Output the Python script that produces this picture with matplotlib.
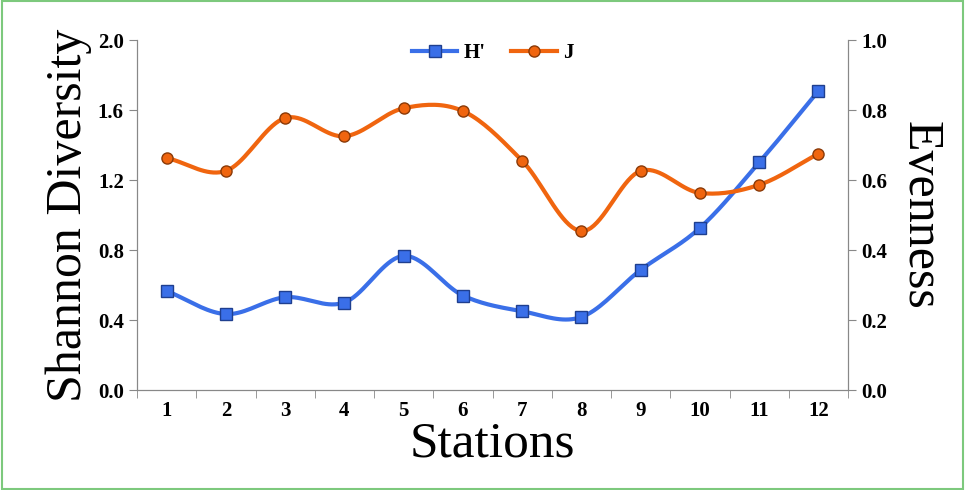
import numpy as np
from matplotlib import pyplot as plt
from matplotlib.patches import Rectangle
from matplotlib.lines import Line2D

stations = [1, 2, 3, 4, 5, 6, 7, 8, 9, 10, 11, 12]
H = [0.566, 0.434, 0.53, 0.50, 0.766, 0.54, 0.45, 0.417, 0.686, 0.926, 1.30, 1.709]
J = [0.663, 0.626, 0.777, 0.725, 0.805, 0.797, 0.655, 0.454, 0.626, 0.563, 0.586, 0.675]

def smooth(x, y, n=20):
    # catmull-rom curve through the points, like Excel's smoothed line
    x = np.asarray(x, float); y = np.asarray(y, float)
    px = np.concatenate([[2*x[0]-x[1]], x, [2*x[-1]-x[-2]]])
    py = np.concatenate([[2*y[0]-y[1]], y, [2*y[-1]-y[-2]]])
    xs, ys = [], []
    t = np.linspace(0, 1, n)
    for i in range(1, len(px)-2):
        for p, out in ((px, xs), (py, ys)):
            p0, p1, p2, p3 = p[i-1], p[i], p[i+1], p[i+2]
            out.extend(0.5*(2*p1 + (-p0+p2)*t + (2*p0-5*p1+4*p2-p3)*t**2 + (-p0+3*p1-3*p2+p3)*t**3))
    return np.array(xs), np.array(ys)

plt.rcParams['font.family'] = ['Liberation Serif', 'DejaVu Serif']
fig = plt.figure(figsize=(9.65, 4.9), dpi=100)
fig.patches.append(Rectangle((0.002, 0.002), 0.996, 0.996, transform=fig.transFigure,
                             fill=False, edgecolor='#7dc97d', linewidth=1.5))
ax = fig.add_axes([137/965, 1-390/490, (848-137)/965, 350/490])
ax2 = ax.twinx()

blue = '#3a6fe8'
orange = '#f0650f'
xs, ys = smooth(stations, H)
ax.plot(xs, ys, color=blue, lw=3)
ax.plot(stations, H, 's', color=blue, mec='#1f3f8f', ms=8)
xs, ys = smooth(stations, J)
ax2.plot(xs, ys, color=orange, lw=3)
ax2.plot(stations, J, 'o', color=orange, mec='#8a3a08', ms=8)

ax.set_ylim(0, 2.0)
ax2.set_ylim(0, 1.0)
ax.set_xlim(0.5, 12.5)
ax.set_yticks(np.arange(0, 2.01, 0.4))
ax.set_yticklabels(['%.1f' % v for v in np.arange(0, 2.01, 0.4)], fontweight='bold', fontsize=15)
ax2.set_yticks(np.arange(0, 1.01, 0.2))
ax2.set_yticklabels(['%.1f' % v for v in np.arange(0, 1.01, 0.2)], fontweight='bold', fontsize=15)
ax.set_xticks(stations)
ax.set_xticklabels([str(s) for s in stations], fontweight='bold', fontsize=15)
ax.set_xticks(np.arange(0.5, 12.6, 1), minor=True)
ax.tick_params(axis='x', which='major', length=0, pad=8)
ax.tick_params(axis='x', which='minor', length=6, color='#888888')
ax.tick_params(axis='y', length=6, color='#888888')
ax2.tick_params(axis='y', length=6, color='#888888')
for a in (ax, ax2):
    a.spines['top'].set_visible(False)
    for s in ('left', 'right', 'bottom'):
        a.spines[s].set_color('#888888')
ax.set_xlabel('Stations', fontsize=37, labelpad=0)
ax.set_ylabel('Shannon Diversity', fontsize=36, labelpad=4)
ax2.set_ylabel('Evenness', fontsize=36, rotation=270, labelpad=40)

hs = [Line2D([], [], color=blue, lw=3, marker='s', ms=8, mec='#1f3f8f'),
      Line2D([], [], color=orange, lw=3, marker='o', ms=8, mec='#8a3a08')]
ax.legend(hs, ["H'", 'J'], loc='upper center', ncol=2, frameon=False, handlelength=2.2,
          handletextpad=0.3, columnspacing=1.2,
          prop={'weight': 'bold', 'size': 15}, bbox_to_anchor=(0.5, 1.045))
fig.savefig('out.png', dpi=100)
